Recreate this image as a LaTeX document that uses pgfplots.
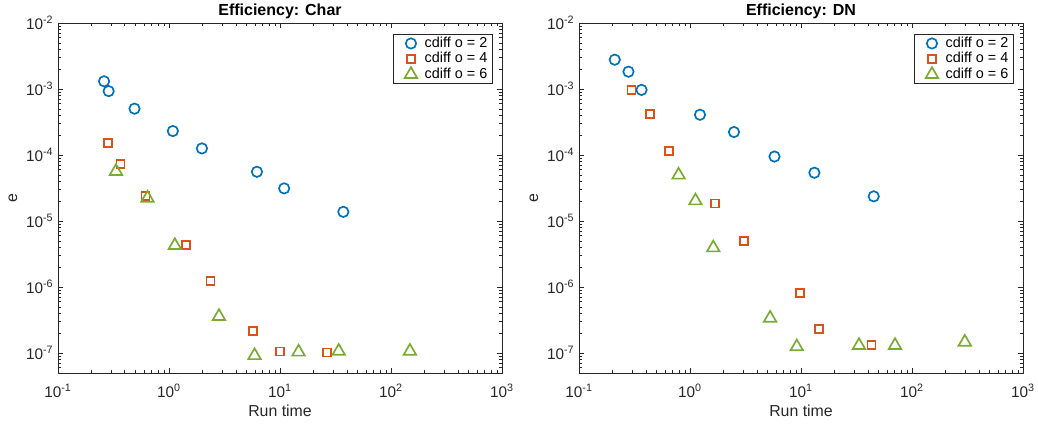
\documentclass[border=0pt]{standalone}
\usepackage{pgfplots}
\pgfplotsset{compat=1.18}
\usepackage{fontspec}
\setmainfont{Liberation Sans}
\definecolor{mblue}{rgb}{0,0.447,0.741}
\definecolor{morange}{rgb}{0.85,0.325,0.098}
\definecolor{mgreen}{rgb}{0.466,0.674,0.188}
\definecolor{axgray}{rgb}{0.15,0.15,0.15}
\pgfdeclareplotmark{msq}{%
  \pgfsetstrokecolor{morange}%
  \pgfsetlinewidth{1.3pt}%
  \pgfpathmoveto{\pgfqpoint{-\pgfplotmarksize}{-\pgfplotmarksize}}%
  \pgfpathlineto{\pgfqpoint{\pgfplotmarksize}{-\pgfplotmarksize}}%
  \pgfpathlineto{\pgfqpoint{\pgfplotmarksize}{\pgfplotmarksize}}%
  \pgfpathlineto{\pgfqpoint{-\pgfplotmarksize}{\pgfplotmarksize}}%
  \pgfpathclose
  \pgfusepathqstroke}
\pgfplotsset{
  effstyle/.style={
    scale only axis, width=333pt, height=262.5pt,
    xmin=0.1, xmax=1000, ymin=5e-8, ymax=1e-2,
    xtick={0.1,1,10,100,1000},
    xticklabels={10\textsuperscript{-1},10\textsuperscript{0},10\textsuperscript{1},10\textsuperscript{2},10\textsuperscript{3}},
    ytick={1e-7,1e-6,1e-5,1e-4,1e-3,1e-2},
    yticklabels={10\textsuperscript{-7},10\textsuperscript{-6},10\textsuperscript{-5},10\textsuperscript{-4},10\textsuperscript{-3},10\textsuperscript{-2}},
    minor xtick={0.2,0.3,0.4,0.5,0.6,0.7,0.8,0.9,2,3,4,5,6,7,8,9,20,30,40,50,60,70,80,90,200,300,400,500,600,700,800,900},
    minor ytick={6e-8,7e-8,8e-8,9e-8,2e-7,3e-7,4e-7,5e-7,6e-7,7e-7,8e-7,9e-7,2e-6,3e-6,4e-6,5e-6,6e-6,7e-6,8e-6,9e-6,2e-5,3e-5,4e-5,5e-5,6e-5,7e-5,8e-5,9e-5,2e-4,3e-4,4e-4,5e-4,6e-4,7e-4,8e-4,9e-4,2e-3,3e-3,4e-3,5e-3,6e-3,7e-3,8e-3,9e-3},
    tick align=inside,
    major tick length=4pt, minor tick length=2.2pt,
    every tick/.style={axgray, line width=0.5pt},
    axis line style={axgray, line width=0.6pt},
    tick label style={font=\fontsize{11.5}{13}\selectfont, text=axgray},
    xticklabel style={yshift=-5pt},
    xlabel style={font=\fontsize{11.9}{13}\selectfont, text=axgray, at={(axis description cs:0.5,0)}, anchor=center, yshift=-28.5pt},
    ylabel style={font=\fontsize{11.9}{13}\selectfont, text=axgray, at={(axis description cs:0,0.5)}, anchor=center, yshift=33.75pt},
    title style={font=\bfseries\fontsize{12}{14}\selectfont, at={(axis description cs:0.5,1)}, anchor=center, yshift=3pt},
    xlabel={Run time}, ylabel={e},
    legend style={at={(axis description cs:1,1)}, anchor=north east, xshift=-6.75pt, yshift=-8.25pt,
      font=\fontsize{10.8}{12}\selectfont, draw=axgray, line width=0.6pt, inner xsep=2pt, inner ysep=1pt, row sep=0pt,
      nodes={inner xsep=2pt, inner ysep=0.8pt, text height=7.8pt, text depth=2.2pt},
      cells={anchor=west}},
    legend cell align=left,
    legend image code/.code={\path (0pt,0pt) (19pt,0pt); \draw[##1] plot coordinates {(11pt,0pt)};},
  },
  s2/.style={only marks, mark=o, mark size=3.9pt, color=mblue, mark options={draw=mblue, line width=1.25pt}},
  s4/.style={only marks, mark=msq, mark size=3pt, color=morange, draw=morange, mark options={draw=morange, line width=1.3pt}},
  s6/.style={only marks, mark=triangle, mark size=5.4pt, color=mgreen, mark options={draw=mgreen, line width=1.25pt}},
}
\begin{document}
\begin{tikzpicture}
\path[use as bounding box] (0,0) rectangle (778.5pt,318pt);
\begin{loglogaxis}[effstyle, at={(43.5pt,38.25pt)}, anchor=south west, title={Efficiency: Char}]
\addplot[s2] coordinates {(0.26,1.31e-3) (0.286,9.3e-4) (0.489,5.04e-4) (1.083,2.31e-4) (1.98,1.26e-4) (6.2,5.58e-5) (10.9,3.13e-5) (37.2,1.38e-5)};
\addlegendentry{cdiff o = 2}
\addplot[s4] coordinates {(0.281,1.52e-4) (0.365,7.4e-5) (0.614,2.37e-5) (1.42,4.3e-6) (2.37,1.25e-6) (5.70,2.18e-7) (10.07,1.06e-7) (26.7,1.02e-7)};
\addlegendentry{cdiff o = 4}
\addplot[s6] coordinates {(0.333,5.66e-5) (0.64,2.23e-5) (1.129,4.27e-6) (2.82,3.6e-7) (5.9,9.2e-8) (14.7,1.04e-7) (33.8,1.07e-7) (148,1.07e-7)};
\addlegendentry{cdiff o = 6}
\end{loglogaxis}
\begin{loglogaxis}[effstyle, at={(434.25pt,38.25pt)}, anchor=south west, title={Efficiency: DN}]
\addplot[s2] coordinates {(0.21,2.78e-3) (0.279,1.83e-3) (0.366,9.7e-4) (1.23,4.08e-4) (2.49,2.23e-4) (5.77,9.5e-5) (13.2,5.4e-5) (45.2,2.37e-5)};
\addlegendentry{cdiff o = 2}
\addplot[s4] coordinates {(0.297,9.55e-4) (0.435,4.23e-4) (0.65,1.14e-4) (1.68,1.85e-5) (3.05,4.98e-6) (9.76,8.1e-7) (14.6,2.34e-7) (43.1,1.32e-7)};
\addlegendentry{cdiff o = 4}
\addplot[s6] coordinates {(0.789,4.98e-5) (1.12,2.03e-5) (1.62,3.94e-6) (5.27,3.39e-7) (9.16,1.25e-7) (33.3,1.31e-7) (70.3,1.31e-7) (299,1.47e-7)};
\addlegendentry{cdiff o = 6}
\end{loglogaxis}
\end{tikzpicture}
\end{document}
